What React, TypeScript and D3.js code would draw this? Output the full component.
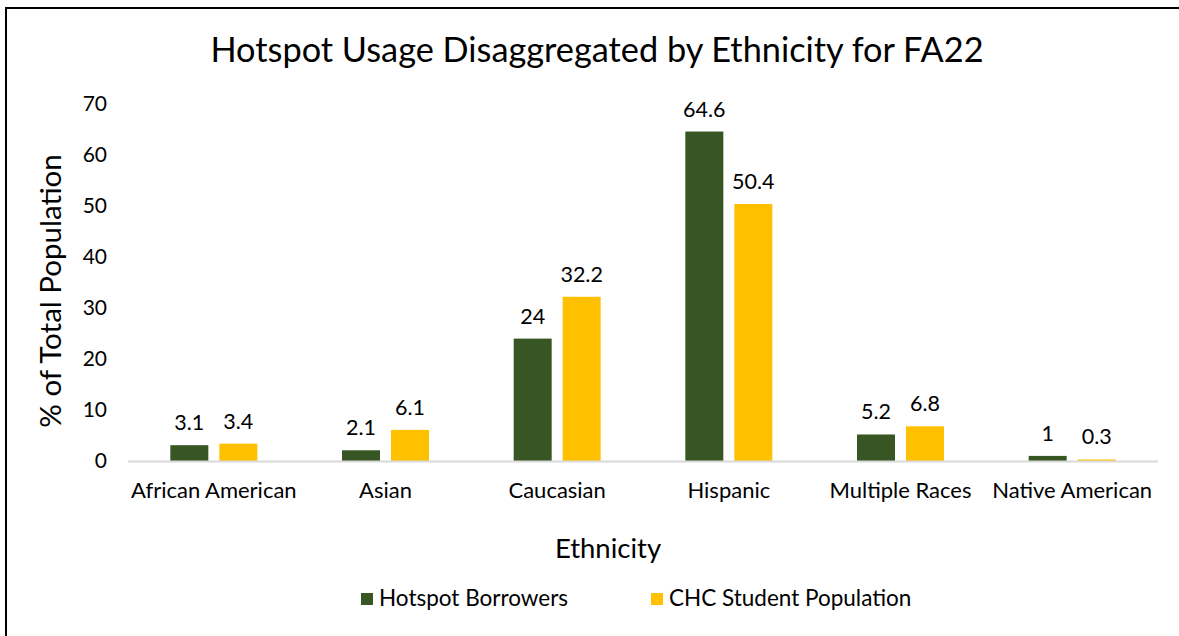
import React from "react";
import * as d3 from "d3";

const categories = ["African American", "Asian", "Caucasian", "Hispanic", "Multiple Races", "Native American"];
const hotspotBorrowers = [3.1, 2.1, 24, 64.6, 5.2, 1];
const chcStudentPopulation = [3.4, 6.1, 32.2, 50.4, 6.8, 0.3];
const seriesNames = ["Hotspot Borrowers", "CHC Student Population"];
const seriesColors = ["#375623", "#FFC000"];
const yTicks = [0, 10, 20, 30, 40, 50, 60, 70];

const W = 1179;
const H = 636;
const FONT = "'Gill Sans', 'Gill Sans MT', Lato, sans-serif";

export default function App() {
  const left = 128, right = 1158, top = 104, bottom = 461;
  const x = d3.scaleBand<string>().domain(categories).range([left, right]).paddingInner(0).paddingOuter(0);
  const y = d3.scaleLinear().domain([0, 70]).range([bottom, top]);
  const barW = 38;
  const gap = 11;
  const series = [hotspotBorrowers, chcStudentPopulation];

  return (
    <svg width={W} height={H} style={{ position: "absolute", left: 0, top: 0, background: "#fff" }} fontFamily={FONT}>
      <rect x={0} y={0} width={W} height={H} fill="#fff" />
      <line x1={6} y1={8} x2={W} y2={8} stroke="#000" strokeWidth={2} />
      <line x1={6} y1={7} x2={6} y2={H} stroke="#000" strokeWidth={2} />
      <text x={597} y={62} textAnchor="middle" fontSize={34.3} fill="#000">
        Hotspot Usage Disaggregated by Ethnicity for FA22
      </text>
      {yTicks.map((t) => (
        <text key={t} x={107} y={y(t)} dy="0.35em" textAnchor="end" fontSize={21} fill="#000">
          {t}
        </text>
      ))}
      {categories.map((c, i) => {
        const cx = (x(c) as number) + x.bandwidth() / 2;
        return (
          <g key={c}>
            {series.map((s, k) => {
              const bx = k === 0 ? cx - gap / 2 - barW : cx + gap / 2;
              const v = s[i];
              return (
                <g key={k}>
                  <rect x={bx} y={y(v)} width={barW} height={bottom - y(v)} fill={seriesColors[k]} />
                  <text x={bx + barW / 2} y={y(v) - 15} textAnchor="middle" fontSize={21.5} fill="#000">
                    {v}
                  </text>
                </g>
              );
            })}
            <text x={cx} y={498} textAnchor="middle" fontSize={22} fill="#000">
              {c}
            </text>
          </g>
        );
      })}
      <line x1={left} x2={right} y1={bottom + 0.5} y2={bottom + 0.5} stroke="#d9d9d9" strokeWidth={2} />
      <text x={608} y={558} textAnchor="middle" fontSize={27.5} fill="#000">
        Ethnicity
      </text>
      <text transform={`translate(61,291) rotate(-90)`} textAnchor="middle" fontSize={29.5} fill="#000">
        % of Total Population
      </text>
      {seriesNames.map((n, k) => {
        const lx = k === 0 ? 361 : 651;
        return (
          <g key={n}>
            <rect x={lx} y={593} width={12} height={12} fill={seriesColors[k]} />
            <text x={lx + 18} y={606} fontSize={22.5} fill="#000">
              {n}
            </text>
          </g>
        );
      })}
    </svg>
  );
}
